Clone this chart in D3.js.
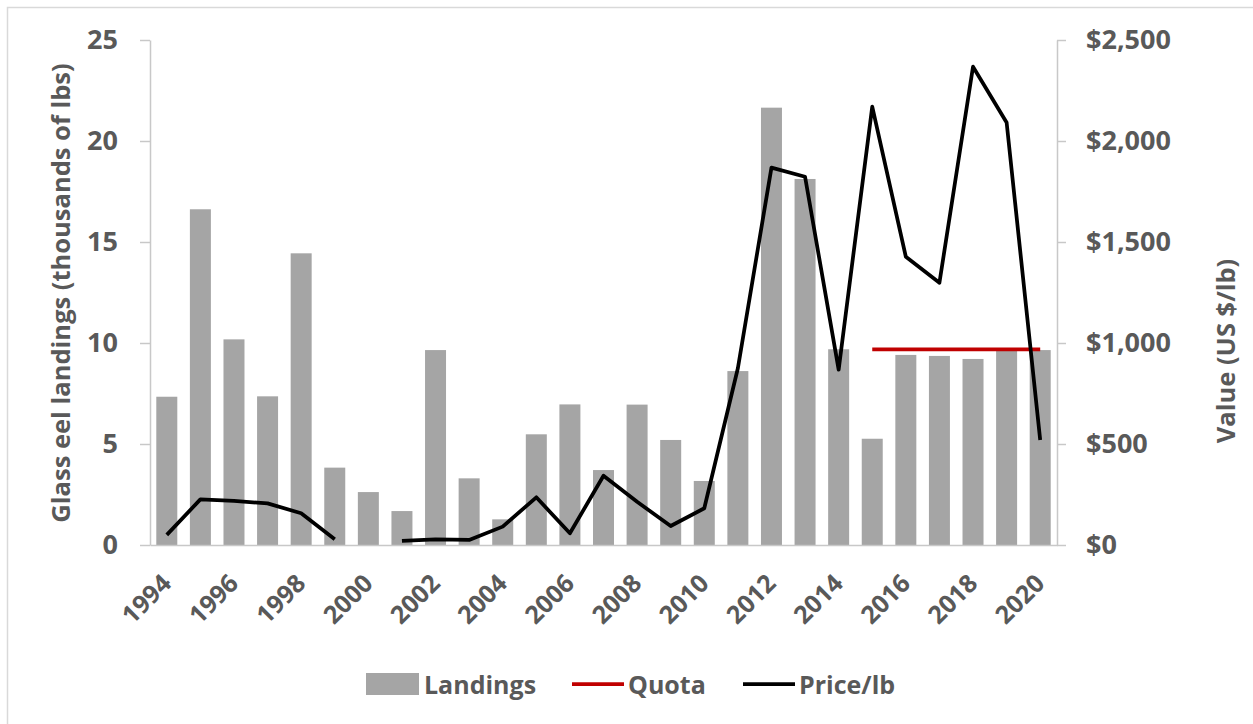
<!DOCTYPE html>
<html>
<head>
<meta charset="utf-8">
<script src="https://cdn.jsdelivr.net/npm/d3@7"></script>
<style>
  body { margin: 0; background: #fff; }
  svg { display: block; font-family: "Open Sans", sans-serif; font-weight: bold; }
</style>
</head>
<body>
<svg id="chart" width="1253" height="724"></svg>
<script>
const years = d3.range(1994, 2021);
// thousands of lbs
const landings = [7.34, 16.62, 10.18, 7.36, 14.44, 3.83, 2.62, 1.68, 9.65, 3.30,
    1.27, 5.48, 6.96, 3.71, 6.95, 5.20, 3.17, 8.61, 21.65, 18.12,
    9.69, 5.26, 9.41, 9.36, 9.21, 9.65, 9.65];
// US $ per lb, null = no data
const price = [50, 226, 218, 206, 157, 28, null, 21, 28, 25,
    91, 236, 58, 343, 214, 94, 182, 875, 1868, 1823,
    868, 2170, 1427, 1298, 2368, 2092, 520];
const quotaYears = [2015, 2016, 2017, 2018, 2019, 2020];
const quota = [9.688, 9.688, 9.688, 9.688, 9.688, 9.688];
const leftTicks = [0, 5, 10, 15, 20, 25];
const rightTicks = [0, 500, 1000, 1500, 2000, 2500];

const textColor = "#595959";
const axisColor = "#c8c8c8";
const fontFam = "'Open Sans', sans-serif";
const svg = d3.select("#chart");

// outer chart border
svg.append("rect")
    .attr("x", 7.5).attr("y", 7.5)
    .attr("width", 1400).attr("height", 900)
    .attr("fill", "none").attr("stroke", "#d9d9d9").attr("stroke-width", 1.5);

const plotLeft = 150, plotRight = 1057, plotTop = 40, plotBottom = 545;

const x = d3.scaleBand()
    .domain(years)
    .range([plotLeft, plotRight])
    .paddingInner(0.375)
    .paddingOuter(0.1875);

const y = d3.scaleLinear().domain([0, 25]).range([plotBottom, plotTop]);
const y2 = d3.scaleLinear().domain([0, 2500]).range([plotBottom, plotTop]);

// bars
svg.append("g").selectAll("rect")
    .data(years)
    .enter()
    .append("rect")
    .attr("x", d => x(d))
    .attr("y", (d, i) => y(landings[i]))
    .attr("width", x.bandwidth())
    .attr("height", (d, i) => plotBottom - y(landings[i]))
    .attr("fill", "#a5a5a5");

// axes
const leftAxis = svg.append("g")
    .attr("transform", `translate(${plotLeft},0)`)
    .call(d3.axisLeft(y).tickValues(leftTicks).tickSize(10).tickPadding(22).tickSizeOuter(0));

const rightAxis = svg.append("g")
    .attr("transform", `translate(${plotRight},0)`)
    .call(d3.axisRight(y2).tickValues(rightTicks).tickSize(9).tickPadding(20).tickSizeOuter(0)
        .tickFormat(d => "$" + d3.format(",")(d)));

const bottomAxis = svg.append("g")
    .attr("transform", `translate(0,${plotBottom})`)
    .call(d3.axisBottom(x).tickSize(0).tickSizeOuter(0)
        .tickFormat(d => d % 2 === 0 ? d : ""));

[leftAxis, rightAxis, bottomAxis].forEach(g => {
    g.selectAll("path, line").attr("stroke", axisColor).attr("stroke-width", 1.5);
    g.selectAll("text").attr("fill", textColor).style("font-size", "27px")
        .style("font-family", fontFam).style("font-weight", "bold");
});

bottomAxis.selectAll("text")
    .attr("text-anchor", "end")
    .attr("dy", null)
    .attr("y", null)
    .style("font-size", "25px")
    .attr("transform", "translate(6,40) rotate(-45)");

// quota line
const quotaLine = d3.line()
    .x(d => x(d[0]) + x.bandwidth() / 2)
    .y(d => y(d[1]));

svg.append("path")
    .datum(quotaYears.map((yr, i) => [yr, quota[i]]))
    .attr("d", quotaLine)
    .attr("fill", "none")
    .attr("stroke", "#c00000")
    .attr("stroke-width", 3.75);

// price line
const priceLine = d3.line()
    .defined(d => d[1] !== null)
    .x(d => x(d[0]) + x.bandwidth() / 2)
    .y(d => y2(d[1]));

svg.append("path")
    .datum(years.map((yr, i) => [yr, price[i]]))
    .attr("d", priceLine)
    .attr("fill", "none")
    .attr("stroke", "#000")
    .attr("stroke-width", 3.75)
    .attr("stroke-linejoin", "round");

// axis titles
svg.append("text")
    .attr("transform", `translate(70,293) rotate(-90)`)
    .attr("text-anchor", "middle")
    .attr("fill", textColor)
    .style("font-size", "25.5px")
    .text("Glass eel landings (thousands of lbs)");

svg.append("text")
    .attr("transform", `translate(1235,351) rotate(-90)`)
    .attr("text-anchor", "middle")
    .attr("fill", textColor)
    .style("font-size", "25.5px")
    .text("Value (US $/lb)");

// legend
const legend = svg.append("g");
legend.append("rect")
    .attr("x", 366).attr("y", 673).attr("width", 53).attr("height", 22)
    .attr("fill", "#a5a5a5");
legend.append("text").attr("x", 424).attr("y", 694).attr("fill", textColor)
    .style("font-size", "25px").text("Landings");

legend.append("line")
    .attr("x1", 572).attr("x2", 624).attr("y1", 684).attr("y2", 684)
    .attr("stroke", "#c00000").attr("stroke-width", 3.75);
legend.append("text").attr("x", 628).attr("y", 694).attr("fill", textColor)
    .style("font-size", "25px").text("Quota");

legend.append("line")
    .attr("x1", 743).attr("x2", 795).attr("y1", 684).attr("y2", 684)
    .attr("stroke", "#000").attr("stroke-width", 3.75);
legend.append("text").attr("x", 799).attr("y", 694).attr("fill", textColor)
    .style("font-size", "25px").text("Price/lb");
</script>
</body>
</html>
